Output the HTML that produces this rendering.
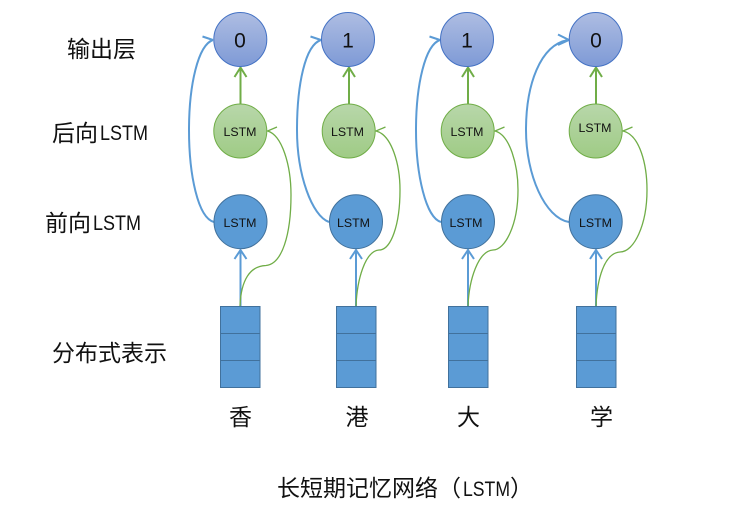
<!DOCTYPE html>
<html><head><meta charset="utf-8"><style>
html,body{margin:0;padding:0;background:#fff}
svg{display:block}
text{font-family:"Liberation Sans","Noto Sans CJK SC",sans-serif;fill:#111}
</style></head><body>
<svg width="732" height="511" viewBox="0 0 732 511" xmlns="http://www.w3.org/2000/svg">
<defs>
<linearGradient id="o" x1="0" y1="0" x2="0" y2="1"><stop offset="0" stop-color="#aebde2"/><stop offset="1" stop-color="#7e9ad6"/></linearGradient>
<linearGradient id="g" x1="0" y1="0" x2="0" y2="1"><stop offset="0" stop-color="#b8d7aa"/><stop offset="1" stop-color="#9fcb85"/></linearGradient>
<g id="stack"><rect x="0.5" y="306.5" width="39.5" height="81" fill="#5b9bd5" stroke="#41719c"/><path d="M0.5 333.5H40M0.5 360.5H40" stroke="#41719c" fill="none"/></g>
</defs>

<!-- blue curves -->
<g fill="none" stroke="#5b9bd5" stroke-width="2">
<path d="M214 222C198 218 189 175 189 130C189 85 198 45 213 40"/>
<path d="M329 222C312 216 297 175 297 130C297 85 305 45 321 40"/>
<path d="M441 222C426 218 416 175 416 130C416 85 425 45 440 40"/>
<path d="M569 222C545 218 526 175 526 130C526 85 540 45 568 40"/>
<path d="M202.500 36.500L213 40M310.500 36.500L321 40M429.500 36.500L440 40M558 34.500L569 40L558 45"/>
<path d="M240.500 306V250M234.500 259L240.500 250L246.500 259M356 306V250M350 259L356 250L362 259M468 306V250M462 259L468 250L474 259M596 306V250M590 259L596 250L602 259"/>
</g>
<!-- green curves -->
<g fill="none" stroke="#70ad47" stroke-width="1.300">
<path d="M240 306C241 280 250 266 266 265.500C282 264 291 235 291 195C291 165 282 135 267.500 131L277 127"/>
<path d="M356 306C357 280 365 251 379 250C391 250 400 225 400 190C400 165 392 135 376 131L385.500 127"/>
<path d="M468 306C469 280 478 251 493 250C505 250 518 225 518 190C518 165 510 135 495 131L504.500 127"/>
<path d="M596 306C597 280 604 253 620 252C634 252 647 225 647 190C647 165 640 135 623 131L632.500 127"/>
</g>
<g fill="none" stroke="#70ad47" stroke-width="2">
<path d="M240.500 104V68M234.500 77L240.500 67.500L246.500 77M349 104V68M343 77L349 67.500L355 77M468 104V68M462 77L468 67.500L474 77M596 104V68M590 77L596 67.500L602 77"/>
</g>

<!-- stacks -->
<use href="#stack" transform="translate(220,0)"/>
<use href="#stack" transform="translate(336,0)"/>
<use href="#stack" transform="translate(448,0)"/>
<use href="#stack" transform="translate(576,0)"/>

<!-- output -->
<g fill="url(#o)" stroke="#4472c4">
<ellipse cx="240.300" cy="39.500" rx="26.500" ry="27"/>
<ellipse cx="348" cy="39.500" rx="26.500" ry="27"/>
<ellipse cx="467" cy="39.500" rx="26.500" ry="27"/>
<ellipse cx="595.700" cy="39.500" rx="26.500" ry="27"/>
</g>
<!-- backward -->
<g fill="url(#g)" stroke="#70ad47">
<ellipse cx="240.300" cy="131" rx="26.500" ry="27"/>
<ellipse cx="348.700" cy="131" rx="26.500" ry="27"/>
<ellipse cx="467.700" cy="131" rx="26.500" ry="27"/>
<ellipse cx="595.700" cy="131" rx="26.500" ry="27"/>
</g>
<!-- forward -->
<g fill="#5b9bd5" stroke="#41719c">
<ellipse cx="240.500" cy="221.700" rx="26.500" ry="27"/>
<ellipse cx="356" cy="221.700" rx="26.500" ry="27"/>
<ellipse cx="468" cy="221.700" rx="26.500" ry="27"/>
<ellipse cx="595.700" cy="221.700" rx="26.500" ry="27"/>
</g>

<g font-size="21" text-anchor="middle">
<text x="240" y="47.500">0</text><text x="348" y="47.500">1</text><text x="467" y="47.500">1</text><text x="596" y="47.500">0</text>
</g>
<g font-size="12" text-anchor="middle">
<text x="240" y="136" textLength="33" lengthAdjust="spacingAndGlyphs">LSTM</text>
<text x="347.500" y="136" textLength="33" lengthAdjust="spacingAndGlyphs">LSTM</text>
<text x="467" y="136" textLength="33" lengthAdjust="spacingAndGlyphs">LSTM</text>
<text x="595" y="132" textLength="33" lengthAdjust="spacingAndGlyphs">LSTM</text>
<text x="240" y="227" textLength="33" lengthAdjust="spacingAndGlyphs">LSTM</text>
<text x="353.500" y="227" textLength="33" lengthAdjust="spacingAndGlyphs">LSTM</text>
<text x="466" y="227" textLength="33" lengthAdjust="spacingAndGlyphs">LSTM</text>
<text x="595.500" y="227" textLength="33" lengthAdjust="spacingAndGlyphs">LSTM</text>
</g>

<g font-size="23">
<text x="67" y="57">输出层</text>
<text x="52" y="141">后向</text>
<text x="100" y="140" font-size="21" textLength="48" lengthAdjust="spacingAndGlyphs">LSTM</text>
<text x="45" y="231">前向</text>
<text x="93" y="230" font-size="21" textLength="48" lengthAdjust="spacingAndGlyphs">LSTM</text>
<text x="52" y="361">分布式表示</text>
<text x="229" y="425">香</text>
<text x="345.500" y="425">港</text>
<text x="457" y="425">大</text>
<text x="590" y="425">学</text>
<text x="277" y="496">长短期记忆网络（</text>
<text x="463" y="496" font-size="21" textLength="47" lengthAdjust="spacingAndGlyphs">LSTM</text>
<text x="510" y="496">）</text>
</g>
</svg>
</body></html>
